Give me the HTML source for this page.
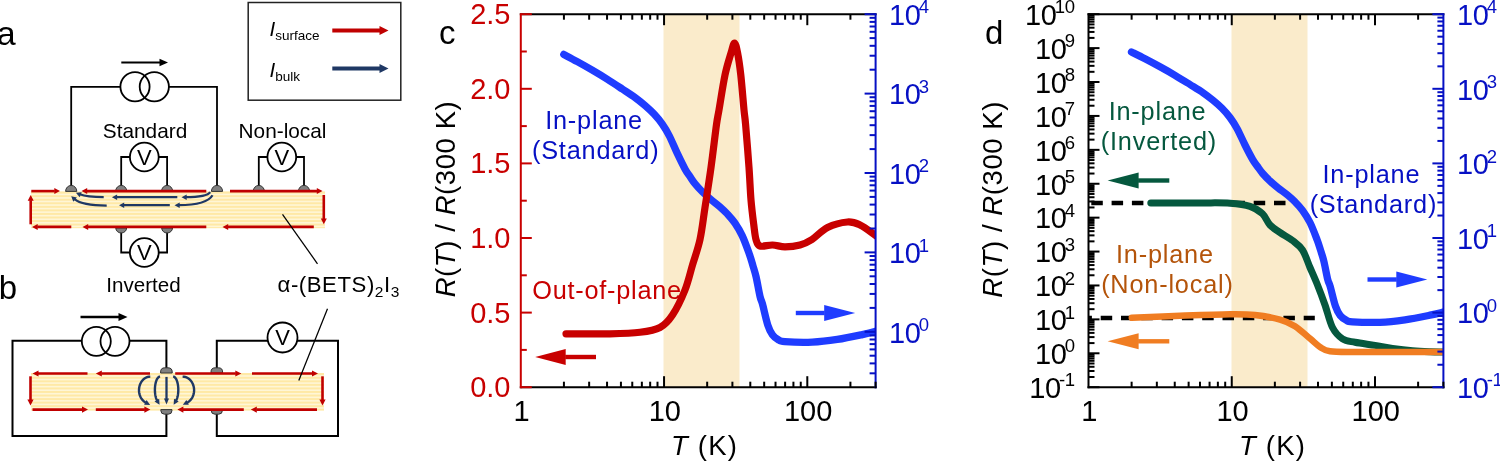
<!DOCTYPE html>
<html lang="en">
<head>
<meta charset="utf-8">
<title>Figure: surface and bulk transport in alpha-(BETS)2I3</title>
<style>
html,body{margin:0;padding:0;background:#fff;}
body{width:1500px;height:461px;overflow:hidden;}
svg{display:block;will-change:transform;font-family:"Liberation Sans", Arial, Helvetica, sans-serif;}
svg text{font-family:"Liberation Sans", Arial, Helvetica, sans-serif;}
</style>
</head>
<body>
<svg width="1500" height="461" viewBox="0 0 1500 461">
<rect x="0" y="0" width="1500" height="461" fill="#fff"/>
<defs><clipPath id="clipc"><rect x="521" y="14" width="354" height="373"/></clipPath><clipPath id="clipd"><rect x="1089" y="14" width="354" height="373"/></clipPath></defs>
<g id="panel-c">
<rect x="663.5" y="14.2" width="76" height="373" fill="#FAEBCB"/>
<path clip-path="url(#clipc)" d="M563.8 54.43C566.05 55.64 572.55 59.04 577.3 61.67C582.05 64.3 587.3 67.26 592.3 70.18C597.3 73.11 602.3 76.09 607.3 79.23C612.3 82.37 617.63 85.94 622.3 89.02C626.97 92.11 631.47 94.95 635.3 97.75C639.13 100.55 642.13 103.07 645.3 105.84C648.47 108.61 651.47 111.3 654.3 114.35C657.13 117.41 659.8 120.56 662.3 124.15C664.8 127.73 666.8 130.98 669.3 135.85C671.8 140.73 674.68 147.9 677.3 153.42C679.92 158.93 682.92 165.14 685 168.96C687.08 172.77 688.13 173.83 689.8 176.3C691.47 178.77 692.92 181.18 695 183.75C697.08 186.32 699.75 189.2 702.3 191.73C704.85 194.27 707.38 196.49 710.3 198.97C713.22 201.45 716.97 204.15 719.8 206.63C722.63 209.12 724.8 211.16 727.3 213.87C729.8 216.58 732.3 219.25 734.8 222.92C737.3 226.59 739.88 230.72 742.3 235.9C744.72 241.08 747.55 249.12 749.3 254C751.05 258.87 751.67 261.36 752.8 265.17C753.93 268.99 754.9 271.68 756.1 276.88C757.3 282.08 758.93 291.83 760 296.36C761.07 300.88 761.2 299.23 762.5 304.02C763.8 308.81 766.13 319.95 767.8 325.09C769.47 330.24 770.75 332.46 772.5 334.89C774.25 337.32 776.25 338.56 778.3 339.68C780.35 340.79 779.13 341.18 784.8 341.59C790.47 342 803.55 342.48 812.3 342.12C821.05 341.77 828.97 340.72 837.3 339.46C845.63 338.2 855.88 335.95 862.3 334.57C868.72 333.18 872.02 332.26 875.8 331.16C879.58 330.07 883.47 328.53 885 328" fill="none" stroke="#1F3CFF" stroke-width="7.3" stroke-linecap="round" stroke-linejoin="round"/>
<path clip-path="url(#clipc)" d="M566 333.8C573.33 333.8 597.67 334.05 610 333.8C622.33 333.55 631.67 333.35 640 332.3C648.33 331.25 654.58 330.38 660 327.5C665.42 324.62 668.33 321.25 672.5 315C676.67 308.75 681.67 298.33 685 290C688.33 281.67 690 273.42 692.5 265C695 256.58 697.92 249.08 700 239.5C702.08 229.92 703.17 219.5 705 207.5C706.83 195.5 709.08 181.33 711 167.5C712.92 153.67 715.17 134.08 716.5 124.5C717.83 114.92 717.58 118.25 719 110C720.42 101.75 723 84.5 725 75C727 65.5 729.42 58.33 731 53C732.58 47.67 733.4 43 734.5 43C735.6 43 736.55 47.67 737.6 53C738.65 58.33 739.73 65.5 740.8 75C741.87 84.5 743.2 101.75 744 110C744.8 118.25 744.77 114.92 745.6 124.5C746.43 134.08 748.1 154.92 749 167.5C749.9 180.08 750.2 190.42 751 200C751.8 209.58 752.97 218.42 753.8 225C754.63 231.58 754.97 236 756 239.5C757.03 243 757.25 245.08 760 246C762.75 246.92 768.33 244.87 772.5 245C776.67 245.13 780.42 246.8 785 246.8C789.58 246.8 795.5 246.22 800 245C804.5 243.78 807.42 242.42 812 239.5C816.58 236.58 821.58 230.42 827.5 227.5C833.42 224.58 842.08 222.42 847.5 222C852.92 221.58 855.42 222.83 860 225C864.58 227.17 870.83 232 875 235C879.17 238 883.33 241.67 885 243" fill="none" stroke="#C80000" stroke-width="7.2" stroke-linecap="round" stroke-linejoin="round"/>
<line x1="519.8" y1="14.2" x2="876.6" y2="14.2" stroke="#000" stroke-width="2"/>
<line x1="519.8" y1="387.2" x2="876.6" y2="387.2" stroke="#000" stroke-width="2"/>
<line x1="520.8" y1="13.2" x2="520.8" y2="388.2" stroke="#C80000" stroke-width="2"/>
<line x1="875.6" y1="13.2" x2="875.6" y2="388.2" stroke="#0610C4" stroke-width="2"/>
<line x1="563.92" y1="387.2" x2="563.92" y2="381.7" stroke="#000" stroke-width="2"/>
<line x1="563.92" y1="14.2" x2="563.92" y2="19.7" stroke="#000" stroke-width="2"/>
<line x1="589.15" y1="387.2" x2="589.15" y2="381.7" stroke="#000" stroke-width="2"/>
<line x1="589.15" y1="14.2" x2="589.15" y2="19.7" stroke="#000" stroke-width="2"/>
<line x1="607.05" y1="387.2" x2="607.05" y2="381.7" stroke="#000" stroke-width="2"/>
<line x1="607.05" y1="14.2" x2="607.05" y2="19.7" stroke="#000" stroke-width="2"/>
<line x1="620.93" y1="387.2" x2="620.93" y2="381.7" stroke="#000" stroke-width="2"/>
<line x1="620.93" y1="14.2" x2="620.93" y2="19.7" stroke="#000" stroke-width="2"/>
<line x1="632.27" y1="387.2" x2="632.27" y2="381.7" stroke="#000" stroke-width="2"/>
<line x1="632.27" y1="14.2" x2="632.27" y2="19.7" stroke="#000" stroke-width="2"/>
<line x1="641.86" y1="387.2" x2="641.86" y2="381.7" stroke="#000" stroke-width="2"/>
<line x1="641.86" y1="14.2" x2="641.86" y2="19.7" stroke="#000" stroke-width="2"/>
<line x1="650.17" y1="387.2" x2="650.17" y2="381.7" stroke="#000" stroke-width="2"/>
<line x1="650.17" y1="14.2" x2="650.17" y2="19.7" stroke="#000" stroke-width="2"/>
<line x1="657.5" y1="387.2" x2="657.5" y2="381.7" stroke="#000" stroke-width="2"/>
<line x1="657.5" y1="14.2" x2="657.5" y2="19.7" stroke="#000" stroke-width="2"/>
<line x1="664.05" y1="387.2" x2="664.05" y2="376.2" stroke="#000" stroke-width="2"/>
<line x1="664.05" y1="14.2" x2="664.05" y2="25.2" stroke="#000" stroke-width="2"/>
<line x1="707.17" y1="387.2" x2="707.17" y2="381.7" stroke="#000" stroke-width="2"/>
<line x1="707.17" y1="14.2" x2="707.17" y2="19.7" stroke="#000" stroke-width="2"/>
<line x1="732.4" y1="387.2" x2="732.4" y2="381.7" stroke="#000" stroke-width="2"/>
<line x1="732.4" y1="14.2" x2="732.4" y2="19.7" stroke="#000" stroke-width="2"/>
<line x1="750.3" y1="387.2" x2="750.3" y2="381.7" stroke="#000" stroke-width="2"/>
<line x1="750.3" y1="14.2" x2="750.3" y2="19.7" stroke="#000" stroke-width="2"/>
<line x1="764.18" y1="387.2" x2="764.18" y2="381.7" stroke="#000" stroke-width="2"/>
<line x1="764.18" y1="14.2" x2="764.18" y2="19.7" stroke="#000" stroke-width="2"/>
<line x1="775.52" y1="387.2" x2="775.52" y2="381.7" stroke="#000" stroke-width="2"/>
<line x1="775.52" y1="14.2" x2="775.52" y2="19.7" stroke="#000" stroke-width="2"/>
<line x1="785.11" y1="387.2" x2="785.11" y2="381.7" stroke="#000" stroke-width="2"/>
<line x1="785.11" y1="14.2" x2="785.11" y2="19.7" stroke="#000" stroke-width="2"/>
<line x1="793.42" y1="387.2" x2="793.42" y2="381.7" stroke="#000" stroke-width="2"/>
<line x1="793.42" y1="14.2" x2="793.42" y2="19.7" stroke="#000" stroke-width="2"/>
<line x1="800.75" y1="387.2" x2="800.75" y2="381.7" stroke="#000" stroke-width="2"/>
<line x1="800.75" y1="14.2" x2="800.75" y2="19.7" stroke="#000" stroke-width="2"/>
<line x1="807.3" y1="387.2" x2="807.3" y2="376.2" stroke="#000" stroke-width="2"/>
<line x1="807.3" y1="14.2" x2="807.3" y2="25.2" stroke="#000" stroke-width="2"/>
<line x1="850.42" y1="387.2" x2="850.42" y2="381.7" stroke="#000" stroke-width="2"/>
<line x1="850.42" y1="14.2" x2="850.42" y2="19.7" stroke="#000" stroke-width="2"/>
<line x1="875.6" y1="388.2" x2="875.6" y2="381.7" stroke="#000" stroke-width="2"/>
<line x1="520.8" y1="387.2" x2="531.8" y2="387.2" stroke="#C80000" stroke-width="2"/>
<text x="510.5" y="397.2" font-size="29" fill="#C80000" text-anchor="end" letter-spacing="0">0.0</text>
<line x1="520.8" y1="349.9" x2="526.8" y2="349.9" stroke="#C80000" stroke-width="2"/>
<line x1="520.8" y1="312.6" x2="531.8" y2="312.6" stroke="#C80000" stroke-width="2"/>
<text x="510.5" y="322.6" font-size="29" fill="#C80000" text-anchor="end" letter-spacing="0">0.5</text>
<line x1="520.8" y1="275.3" x2="526.8" y2="275.3" stroke="#C80000" stroke-width="2"/>
<line x1="520.8" y1="238" x2="531.8" y2="238" stroke="#C80000" stroke-width="2"/>
<text x="510.5" y="248" font-size="29" fill="#C80000" text-anchor="end" letter-spacing="0">1.0</text>
<line x1="520.8" y1="200.7" x2="526.8" y2="200.7" stroke="#C80000" stroke-width="2"/>
<line x1="520.8" y1="163.4" x2="531.8" y2="163.4" stroke="#C80000" stroke-width="2"/>
<text x="510.5" y="173.4" font-size="29" fill="#C80000" text-anchor="end" letter-spacing="0">1.5</text>
<line x1="520.8" y1="126.1" x2="526.8" y2="126.1" stroke="#C80000" stroke-width="2"/>
<line x1="520.8" y1="88.8" x2="531.8" y2="88.8" stroke="#C80000" stroke-width="2"/>
<text x="510.5" y="98.8" font-size="29" fill="#C80000" text-anchor="end" letter-spacing="0">2.0</text>
<line x1="520.8" y1="51.5" x2="526.8" y2="51.5" stroke="#C80000" stroke-width="2"/>
<line x1="520.8" y1="14.2" x2="531.8" y2="14.2" stroke="#C80000" stroke-width="2"/>
<text x="510.5" y="24.2" font-size="29" fill="#C80000" text-anchor="end" letter-spacing="0">2.5</text>
<line x1="875.6" y1="373.32" x2="869.6" y2="373.32" stroke="#0610C4" stroke-width="2"/>
<line x1="875.6" y1="363.4" x2="869.6" y2="363.4" stroke="#0610C4" stroke-width="2"/>
<line x1="875.6" y1="355.7" x2="869.6" y2="355.7" stroke="#0610C4" stroke-width="2"/>
<line x1="875.6" y1="349.41" x2="869.6" y2="349.41" stroke="#0610C4" stroke-width="2"/>
<line x1="875.6" y1="344.1" x2="869.6" y2="344.1" stroke="#0610C4" stroke-width="2"/>
<line x1="875.6" y1="339.49" x2="869.6" y2="339.49" stroke="#0610C4" stroke-width="2"/>
<line x1="875.6" y1="335.43" x2="869.6" y2="335.43" stroke="#0610C4" stroke-width="2"/>
<line x1="875.6" y1="331.8" x2="864.6" y2="331.8" stroke="#0610C4" stroke-width="2"/>
<line x1="875.6" y1="307.9" x2="869.6" y2="307.9" stroke="#0610C4" stroke-width="2"/>
<line x1="875.6" y1="293.92" x2="869.6" y2="293.92" stroke="#0610C4" stroke-width="2"/>
<line x1="875.6" y1="284" x2="869.6" y2="284" stroke="#0610C4" stroke-width="2"/>
<line x1="875.6" y1="276.3" x2="869.6" y2="276.3" stroke="#0610C4" stroke-width="2"/>
<line x1="875.6" y1="270.01" x2="869.6" y2="270.01" stroke="#0610C4" stroke-width="2"/>
<line x1="875.6" y1="264.7" x2="869.6" y2="264.7" stroke="#0610C4" stroke-width="2"/>
<line x1="875.6" y1="260.09" x2="869.6" y2="260.09" stroke="#0610C4" stroke-width="2"/>
<line x1="875.6" y1="256.03" x2="869.6" y2="256.03" stroke="#0610C4" stroke-width="2"/>
<line x1="875.6" y1="252.4" x2="864.6" y2="252.4" stroke="#0610C4" stroke-width="2"/>
<line x1="875.6" y1="228.5" x2="869.6" y2="228.5" stroke="#0610C4" stroke-width="2"/>
<line x1="875.6" y1="214.52" x2="869.6" y2="214.52" stroke="#0610C4" stroke-width="2"/>
<line x1="875.6" y1="204.6" x2="869.6" y2="204.6" stroke="#0610C4" stroke-width="2"/>
<line x1="875.6" y1="196.9" x2="869.6" y2="196.9" stroke="#0610C4" stroke-width="2"/>
<line x1="875.6" y1="190.61" x2="869.6" y2="190.61" stroke="#0610C4" stroke-width="2"/>
<line x1="875.6" y1="185.3" x2="869.6" y2="185.3" stroke="#0610C4" stroke-width="2"/>
<line x1="875.6" y1="180.69" x2="869.6" y2="180.69" stroke="#0610C4" stroke-width="2"/>
<line x1="875.6" y1="176.63" x2="869.6" y2="176.63" stroke="#0610C4" stroke-width="2"/>
<line x1="875.6" y1="173" x2="864.6" y2="173" stroke="#0610C4" stroke-width="2"/>
<line x1="875.6" y1="149.1" x2="869.6" y2="149.1" stroke="#0610C4" stroke-width="2"/>
<line x1="875.6" y1="135.12" x2="869.6" y2="135.12" stroke="#0610C4" stroke-width="2"/>
<line x1="875.6" y1="125.2" x2="869.6" y2="125.2" stroke="#0610C4" stroke-width="2"/>
<line x1="875.6" y1="117.5" x2="869.6" y2="117.5" stroke="#0610C4" stroke-width="2"/>
<line x1="875.6" y1="111.21" x2="869.6" y2="111.21" stroke="#0610C4" stroke-width="2"/>
<line x1="875.6" y1="105.9" x2="869.6" y2="105.9" stroke="#0610C4" stroke-width="2"/>
<line x1="875.6" y1="101.29" x2="869.6" y2="101.29" stroke="#0610C4" stroke-width="2"/>
<line x1="875.6" y1="97.23" x2="869.6" y2="97.23" stroke="#0610C4" stroke-width="2"/>
<line x1="875.6" y1="93.6" x2="864.6" y2="93.6" stroke="#0610C4" stroke-width="2"/>
<line x1="875.6" y1="69.7" x2="869.6" y2="69.7" stroke="#0610C4" stroke-width="2"/>
<line x1="875.6" y1="55.72" x2="869.6" y2="55.72" stroke="#0610C4" stroke-width="2"/>
<line x1="875.6" y1="45.8" x2="869.6" y2="45.8" stroke="#0610C4" stroke-width="2"/>
<line x1="875.6" y1="38.1" x2="869.6" y2="38.1" stroke="#0610C4" stroke-width="2"/>
<line x1="875.6" y1="31.81" x2="869.6" y2="31.81" stroke="#0610C4" stroke-width="2"/>
<line x1="875.6" y1="26.5" x2="869.6" y2="26.5" stroke="#0610C4" stroke-width="2"/>
<line x1="875.6" y1="21.89" x2="869.6" y2="21.89" stroke="#0610C4" stroke-width="2"/>
<line x1="875.6" y1="17.83" x2="869.6" y2="17.83" stroke="#0610C4" stroke-width="2"/>
<line x1="875.6" y1="14.2" x2="864.6" y2="14.2" stroke="#0610C4" stroke-width="2"/>
<text x="889" y="342.6" font-size="29" fill="#0610C4" text-anchor="start" letter-spacing="-0.4">10<tspan font-size="18.56" dx="-1.8" dy="-11.6">0</tspan></text>
<text x="889" y="263.2" font-size="29" fill="#0610C4" text-anchor="start" letter-spacing="-0.4">10<tspan font-size="18.56" dx="-1.8" dy="-11.6">1</tspan></text>
<text x="889" y="183.8" font-size="29" fill="#0610C4" text-anchor="start" letter-spacing="-0.4">10<tspan font-size="18.56" dx="-1.8" dy="-11.6">2</tspan></text>
<text x="889" y="104.4" font-size="29" fill="#0610C4" text-anchor="start" letter-spacing="-0.4">10<tspan font-size="18.56" dx="-1.8" dy="-11.6">3</tspan></text>
<text x="889" y="25" font-size="29" fill="#0610C4" text-anchor="start" letter-spacing="-0.4">10<tspan font-size="18.56" dx="-1.8" dy="-11.6">4</tspan></text>
<text x="521.6" y="421" font-size="29" fill="#000" text-anchor="middle" letter-spacing="0">1</text>
<text x="664.85" y="421" font-size="29" fill="#000" text-anchor="middle" letter-spacing="0">10</text>
<text x="808.1" y="421" font-size="29" fill="#000" text-anchor="middle" letter-spacing="0">100</text>
<text x="704.5" y="455.3" font-size="27.5" text-anchor="middle" letter-spacing="1.2"><tspan font-style="italic">T</tspan> (K)</text>
<text transform="translate(454.5 199) rotate(-90)" font-size="27.5" text-anchor="middle" letter-spacing="0.58"><tspan font-style="italic">R</tspan>(<tspan font-style="italic">T</tspan>) / <tspan font-style="italic">R</tspan>(300 K)</text>
<text x="439" y="44.3" font-size="33" fill="#000" text-anchor="start">c</text>
<text x="594.1" y="128.8" font-size="25.3" fill="#0610C4" text-anchor="middle" letter-spacing="0.8">In-plane</text>
<text x="595.7" y="159" font-size="25.3" fill="#0610C4" text-anchor="middle" letter-spacing="0.8">(Standard)</text>
<text x="532.3" y="299.3" font-size="25.3" fill="#C80000" text-anchor="start" letter-spacing="0.75">Out-of-plane</text>
<line x1="596" y1="357" x2="565.2" y2="357" stroke="#C80000" stroke-width="4.4"/>
<polygon points="535.2,357 565.7,349 565.7,365" fill="#C80000"/>
<line x1="795.8" y1="313" x2="824.7" y2="313" stroke="#1F3CFF" stroke-width="4.4"/>
<polygon points="855.2,313 824.2,321 824.2,305" fill="#1F3CFF"/>
</g>
<g id="panel-d">
<rect x="1231.5" y="14.2" width="76" height="373" fill="#FAEBCB"/>
<line x1="1091.3" y1="202.9" x2="1285.5" y2="202.9" stroke="#000" stroke-width="4.5" stroke-dasharray="11.5 8.8"/>
<line x1="1080.4" y1="318.1" x2="1314.8" y2="318.1" stroke="#000" stroke-width="4.5" stroke-dasharray="11.5 8.8" clip-path="url(#clipd)"/>
<path clip-path="url(#clipd)" d="M1150.8 202.9C1159 202.9 1186.8 202.85 1200 202.9C1213.2 202.95 1221.67 202.63 1230 203.2C1238.33 203.77 1244.58 204.53 1250 206.3C1255.42 208.07 1259.17 210.68 1262.5 213.8C1265.83 216.92 1267.08 221.88 1270 225C1272.92 228.12 1276.25 229.92 1280 232.5C1283.75 235.08 1288.75 237.58 1292.5 240.5C1296.25 243.42 1299.58 245.5 1302.5 250C1305.42 254.5 1307.5 261.67 1310 267.5C1312.5 273.33 1315 278.75 1317.5 285C1320 291.25 1322.5 297.92 1325 305C1327.5 312.08 1329.58 321.87 1332.5 327.5C1335.42 333.13 1338.75 336.33 1342.5 338.8C1346.25 341.27 1349.58 341.2 1355 342.3C1360.42 343.4 1368.75 344.38 1375 345.4C1381.25 346.42 1386.25 347.5 1392.5 348.4C1398.75 349.3 1406.25 350.23 1412.5 350.8C1418.75 351.37 1424.92 351.6 1430 351.8C1435.08 352 1439.17 351.97 1443 352C1446.83 352.03 1451.33 352 1453 352" fill="none" stroke="#05583E" stroke-width="7" stroke-linecap="round" stroke-linejoin="round"/>
<path clip-path="url(#clipd)" d="M1131.8 317.8C1139.83 317.47 1163.63 316.38 1180 315.8C1196.37 315.22 1217.5 314.43 1230 314.3C1242.5 314.17 1246.67 314.12 1255 315C1263.33 315.88 1273.33 317.73 1280 319.6C1286.67 321.47 1290 323.03 1295 326.2C1300 329.37 1305.83 335.13 1310 338.6C1314.17 342.07 1316.67 344.88 1320 347C1323.33 349.12 1324.17 350.47 1330 351.3C1335.83 352.13 1343.33 351.88 1355 352C1366.67 352.12 1385.33 352 1400 352C1414.67 352 1434.17 352 1443 352C1451.83 352 1451.33 352 1453 352" fill="none" stroke="#F07D22" stroke-width="6.5" stroke-linecap="round" stroke-linejoin="round"/>
<path clip-path="url(#clipd)" d="M1131.5 52C1133.75 53.13 1140.25 56.33 1145 58.8C1149.75 61.27 1155 64.05 1160 66.8C1165 69.55 1170 72.35 1175 75.3C1180 78.25 1185.33 81.6 1190 84.5C1194.67 87.4 1199.17 90.07 1203 92.7C1206.83 95.33 1209.83 97.7 1213 100.3C1216.17 102.9 1219.17 105.43 1222 108.3C1224.83 111.17 1227.5 114.13 1230 117.5C1232.5 120.87 1234.5 123.92 1237 128.5C1239.5 133.08 1242.38 139.82 1245 145C1247.62 150.18 1250.62 156.02 1252.7 159.6C1254.78 163.18 1255.83 164.18 1257.5 166.5C1259.17 168.82 1260.62 171.08 1262.7 173.5C1264.78 175.92 1267.45 178.62 1270 181C1272.55 183.38 1275.08 185.47 1278 187.8C1280.92 190.13 1284.67 192.67 1287.5 195C1290.33 197.33 1292.5 199.25 1295 201.8C1297.5 204.35 1300 206.85 1302.5 210.3C1305 213.75 1307.58 217.63 1310 222.5C1312.42 227.37 1315.25 234.92 1317 239.5C1318.75 244.08 1319.37 246.42 1320.5 250C1321.63 253.58 1322.6 256.12 1323.8 261C1325 265.88 1326.63 275.05 1327.7 279.3C1328.77 283.55 1328.9 282 1330.2 286.5C1331.5 291 1333.83 301.47 1335.5 306.3C1337.17 311.13 1338.45 313.22 1340.2 315.5C1341.95 317.78 1343.95 318.95 1346 320C1348.05 321.05 1346.83 321.42 1352.5 321.8C1358.17 322.18 1371.25 322.63 1380 322.3C1388.75 321.97 1396.67 320.98 1405 319.8C1413.33 318.62 1423.58 316.5 1430 315.2C1436.42 313.9 1439.67 312.95 1443.5 312C1447.33 311.05 1451.42 309.92 1453 309.5" fill="none" stroke="#1F3CFF" stroke-width="7.3" stroke-linecap="round" stroke-linejoin="round"/>
<line x1="1087.5" y1="14.2" x2="1444.4" y2="14.2" stroke="#000" stroke-width="2"/>
<line x1="1087.5" y1="387.2" x2="1444.4" y2="387.2" stroke="#000" stroke-width="2"/>
<line x1="1088.5" y1="13.2" x2="1088.5" y2="388.2" stroke="#000" stroke-width="2"/>
<line x1="1443.4" y1="13.2" x2="1443.4" y2="388.2" stroke="#0610C4" stroke-width="2"/>
<line x1="1131.62" y1="387.2" x2="1131.62" y2="381.7" stroke="#000" stroke-width="2"/>
<line x1="1131.62" y1="14.2" x2="1131.62" y2="19.7" stroke="#000" stroke-width="2"/>
<line x1="1156.85" y1="387.2" x2="1156.85" y2="381.7" stroke="#000" stroke-width="2"/>
<line x1="1156.85" y1="14.2" x2="1156.85" y2="19.7" stroke="#000" stroke-width="2"/>
<line x1="1174.75" y1="387.2" x2="1174.75" y2="381.7" stroke="#000" stroke-width="2"/>
<line x1="1174.75" y1="14.2" x2="1174.75" y2="19.7" stroke="#000" stroke-width="2"/>
<line x1="1188.63" y1="387.2" x2="1188.63" y2="381.7" stroke="#000" stroke-width="2"/>
<line x1="1188.63" y1="14.2" x2="1188.63" y2="19.7" stroke="#000" stroke-width="2"/>
<line x1="1199.97" y1="387.2" x2="1199.97" y2="381.7" stroke="#000" stroke-width="2"/>
<line x1="1199.97" y1="14.2" x2="1199.97" y2="19.7" stroke="#000" stroke-width="2"/>
<line x1="1209.56" y1="387.2" x2="1209.56" y2="381.7" stroke="#000" stroke-width="2"/>
<line x1="1209.56" y1="14.2" x2="1209.56" y2="19.7" stroke="#000" stroke-width="2"/>
<line x1="1217.87" y1="387.2" x2="1217.87" y2="381.7" stroke="#000" stroke-width="2"/>
<line x1="1217.87" y1="14.2" x2="1217.87" y2="19.7" stroke="#000" stroke-width="2"/>
<line x1="1225.2" y1="387.2" x2="1225.2" y2="381.7" stroke="#000" stroke-width="2"/>
<line x1="1225.2" y1="14.2" x2="1225.2" y2="19.7" stroke="#000" stroke-width="2"/>
<line x1="1231.75" y1="387.2" x2="1231.75" y2="376.2" stroke="#000" stroke-width="2"/>
<line x1="1231.75" y1="14.2" x2="1231.75" y2="25.2" stroke="#000" stroke-width="2"/>
<line x1="1274.87" y1="387.2" x2="1274.87" y2="381.7" stroke="#000" stroke-width="2"/>
<line x1="1274.87" y1="14.2" x2="1274.87" y2="19.7" stroke="#000" stroke-width="2"/>
<line x1="1300.1" y1="387.2" x2="1300.1" y2="381.7" stroke="#000" stroke-width="2"/>
<line x1="1300.1" y1="14.2" x2="1300.1" y2="19.7" stroke="#000" stroke-width="2"/>
<line x1="1318" y1="387.2" x2="1318" y2="381.7" stroke="#000" stroke-width="2"/>
<line x1="1318" y1="14.2" x2="1318" y2="19.7" stroke="#000" stroke-width="2"/>
<line x1="1331.88" y1="387.2" x2="1331.88" y2="381.7" stroke="#000" stroke-width="2"/>
<line x1="1331.88" y1="14.2" x2="1331.88" y2="19.7" stroke="#000" stroke-width="2"/>
<line x1="1343.22" y1="387.2" x2="1343.22" y2="381.7" stroke="#000" stroke-width="2"/>
<line x1="1343.22" y1="14.2" x2="1343.22" y2="19.7" stroke="#000" stroke-width="2"/>
<line x1="1352.81" y1="387.2" x2="1352.81" y2="381.7" stroke="#000" stroke-width="2"/>
<line x1="1352.81" y1="14.2" x2="1352.81" y2="19.7" stroke="#000" stroke-width="2"/>
<line x1="1361.12" y1="387.2" x2="1361.12" y2="381.7" stroke="#000" stroke-width="2"/>
<line x1="1361.12" y1="14.2" x2="1361.12" y2="19.7" stroke="#000" stroke-width="2"/>
<line x1="1368.45" y1="387.2" x2="1368.45" y2="381.7" stroke="#000" stroke-width="2"/>
<line x1="1368.45" y1="14.2" x2="1368.45" y2="19.7" stroke="#000" stroke-width="2"/>
<line x1="1375" y1="387.2" x2="1375" y2="376.2" stroke="#000" stroke-width="2"/>
<line x1="1375" y1="14.2" x2="1375" y2="25.2" stroke="#000" stroke-width="2"/>
<line x1="1418.12" y1="387.2" x2="1418.12" y2="381.7" stroke="#000" stroke-width="2"/>
<line x1="1418.12" y1="14.2" x2="1418.12" y2="19.7" stroke="#000" stroke-width="2"/>
<line x1="1443.4" y1="388.2" x2="1443.4" y2="381.7" stroke="#000" stroke-width="2"/>
<line x1="1088.5" y1="387.2" x2="1099.5" y2="387.2" stroke="#000" stroke-width="2"/>
<line x1="1088.5" y1="376.99" x2="1094.5" y2="376.99" stroke="#000" stroke-width="2"/>
<line x1="1088.5" y1="371.02" x2="1094.5" y2="371.02" stroke="#000" stroke-width="2"/>
<line x1="1088.5" y1="366.78" x2="1094.5" y2="366.78" stroke="#000" stroke-width="2"/>
<line x1="1088.5" y1="363.5" x2="1094.5" y2="363.5" stroke="#000" stroke-width="2"/>
<line x1="1088.5" y1="360.81" x2="1094.5" y2="360.81" stroke="#000" stroke-width="2"/>
<line x1="1088.5" y1="358.54" x2="1094.5" y2="358.54" stroke="#000" stroke-width="2"/>
<line x1="1088.5" y1="356.58" x2="1094.5" y2="356.58" stroke="#000" stroke-width="2"/>
<line x1="1088.5" y1="354.84" x2="1094.5" y2="354.84" stroke="#000" stroke-width="2"/>
<line x1="1088.5" y1="353.29" x2="1099.5" y2="353.29" stroke="#000" stroke-width="2"/>
<line x1="1088.5" y1="343.08" x2="1094.5" y2="343.08" stroke="#000" stroke-width="2"/>
<line x1="1088.5" y1="337.11" x2="1094.5" y2="337.11" stroke="#000" stroke-width="2"/>
<line x1="1088.5" y1="332.88" x2="1094.5" y2="332.88" stroke="#000" stroke-width="2"/>
<line x1="1088.5" y1="329.59" x2="1094.5" y2="329.59" stroke="#000" stroke-width="2"/>
<line x1="1088.5" y1="326.9" x2="1094.5" y2="326.9" stroke="#000" stroke-width="2"/>
<line x1="1088.5" y1="324.63" x2="1094.5" y2="324.63" stroke="#000" stroke-width="2"/>
<line x1="1088.5" y1="322.67" x2="1094.5" y2="322.67" stroke="#000" stroke-width="2"/>
<line x1="1088.5" y1="320.93" x2="1094.5" y2="320.93" stroke="#000" stroke-width="2"/>
<line x1="1088.5" y1="319.38" x2="1099.5" y2="319.38" stroke="#000" stroke-width="2"/>
<line x1="1088.5" y1="309.17" x2="1094.5" y2="309.17" stroke="#000" stroke-width="2"/>
<line x1="1088.5" y1="303.2" x2="1094.5" y2="303.2" stroke="#000" stroke-width="2"/>
<line x1="1088.5" y1="298.97" x2="1094.5" y2="298.97" stroke="#000" stroke-width="2"/>
<line x1="1088.5" y1="295.68" x2="1094.5" y2="295.68" stroke="#000" stroke-width="2"/>
<line x1="1088.5" y1="293" x2="1094.5" y2="293" stroke="#000" stroke-width="2"/>
<line x1="1088.5" y1="290.73" x2="1094.5" y2="290.73" stroke="#000" stroke-width="2"/>
<line x1="1088.5" y1="288.76" x2="1094.5" y2="288.76" stroke="#000" stroke-width="2"/>
<line x1="1088.5" y1="287.02" x2="1094.5" y2="287.02" stroke="#000" stroke-width="2"/>
<line x1="1088.5" y1="285.47" x2="1099.5" y2="285.47" stroke="#000" stroke-width="2"/>
<line x1="1088.5" y1="275.27" x2="1094.5" y2="275.27" stroke="#000" stroke-width="2"/>
<line x1="1088.5" y1="269.29" x2="1094.5" y2="269.29" stroke="#000" stroke-width="2"/>
<line x1="1088.5" y1="265.06" x2="1094.5" y2="265.06" stroke="#000" stroke-width="2"/>
<line x1="1088.5" y1="261.77" x2="1094.5" y2="261.77" stroke="#000" stroke-width="2"/>
<line x1="1088.5" y1="259.09" x2="1094.5" y2="259.09" stroke="#000" stroke-width="2"/>
<line x1="1088.5" y1="256.82" x2="1094.5" y2="256.82" stroke="#000" stroke-width="2"/>
<line x1="1088.5" y1="254.85" x2="1094.5" y2="254.85" stroke="#000" stroke-width="2"/>
<line x1="1088.5" y1="253.12" x2="1094.5" y2="253.12" stroke="#000" stroke-width="2"/>
<line x1="1088.5" y1="251.56" x2="1099.5" y2="251.56" stroke="#000" stroke-width="2"/>
<line x1="1088.5" y1="241.36" x2="1094.5" y2="241.36" stroke="#000" stroke-width="2"/>
<line x1="1088.5" y1="235.38" x2="1094.5" y2="235.38" stroke="#000" stroke-width="2"/>
<line x1="1088.5" y1="231.15" x2="1094.5" y2="231.15" stroke="#000" stroke-width="2"/>
<line x1="1088.5" y1="227.86" x2="1094.5" y2="227.86" stroke="#000" stroke-width="2"/>
<line x1="1088.5" y1="225.18" x2="1094.5" y2="225.18" stroke="#000" stroke-width="2"/>
<line x1="1088.5" y1="222.91" x2="1094.5" y2="222.91" stroke="#000" stroke-width="2"/>
<line x1="1088.5" y1="220.94" x2="1094.5" y2="220.94" stroke="#000" stroke-width="2"/>
<line x1="1088.5" y1="219.21" x2="1094.5" y2="219.21" stroke="#000" stroke-width="2"/>
<line x1="1088.5" y1="217.65" x2="1099.5" y2="217.65" stroke="#000" stroke-width="2"/>
<line x1="1088.5" y1="207.45" x2="1094.5" y2="207.45" stroke="#000" stroke-width="2"/>
<line x1="1088.5" y1="201.48" x2="1094.5" y2="201.48" stroke="#000" stroke-width="2"/>
<line x1="1088.5" y1="197.24" x2="1094.5" y2="197.24" stroke="#000" stroke-width="2"/>
<line x1="1088.5" y1="193.95" x2="1094.5" y2="193.95" stroke="#000" stroke-width="2"/>
<line x1="1088.5" y1="191.27" x2="1094.5" y2="191.27" stroke="#000" stroke-width="2"/>
<line x1="1088.5" y1="189" x2="1094.5" y2="189" stroke="#000" stroke-width="2"/>
<line x1="1088.5" y1="187.03" x2="1094.5" y2="187.03" stroke="#000" stroke-width="2"/>
<line x1="1088.5" y1="185.3" x2="1094.5" y2="185.3" stroke="#000" stroke-width="2"/>
<line x1="1088.5" y1="183.75" x2="1099.5" y2="183.75" stroke="#000" stroke-width="2"/>
<line x1="1088.5" y1="173.54" x2="1094.5" y2="173.54" stroke="#000" stroke-width="2"/>
<line x1="1088.5" y1="167.57" x2="1094.5" y2="167.57" stroke="#000" stroke-width="2"/>
<line x1="1088.5" y1="163.33" x2="1094.5" y2="163.33" stroke="#000" stroke-width="2"/>
<line x1="1088.5" y1="160.04" x2="1094.5" y2="160.04" stroke="#000" stroke-width="2"/>
<line x1="1088.5" y1="157.36" x2="1094.5" y2="157.36" stroke="#000" stroke-width="2"/>
<line x1="1088.5" y1="155.09" x2="1094.5" y2="155.09" stroke="#000" stroke-width="2"/>
<line x1="1088.5" y1="153.12" x2="1094.5" y2="153.12" stroke="#000" stroke-width="2"/>
<line x1="1088.5" y1="151.39" x2="1094.5" y2="151.39" stroke="#000" stroke-width="2"/>
<line x1="1088.5" y1="149.84" x2="1099.5" y2="149.84" stroke="#000" stroke-width="2"/>
<line x1="1088.5" y1="139.63" x2="1094.5" y2="139.63" stroke="#000" stroke-width="2"/>
<line x1="1088.5" y1="133.66" x2="1094.5" y2="133.66" stroke="#000" stroke-width="2"/>
<line x1="1088.5" y1="129.42" x2="1094.5" y2="129.42" stroke="#000" stroke-width="2"/>
<line x1="1088.5" y1="126.13" x2="1094.5" y2="126.13" stroke="#000" stroke-width="2"/>
<line x1="1088.5" y1="123.45" x2="1094.5" y2="123.45" stroke="#000" stroke-width="2"/>
<line x1="1088.5" y1="121.18" x2="1094.5" y2="121.18" stroke="#000" stroke-width="2"/>
<line x1="1088.5" y1="119.21" x2="1094.5" y2="119.21" stroke="#000" stroke-width="2"/>
<line x1="1088.5" y1="117.48" x2="1094.5" y2="117.48" stroke="#000" stroke-width="2"/>
<line x1="1088.5" y1="115.93" x2="1099.5" y2="115.93" stroke="#000" stroke-width="2"/>
<line x1="1088.5" y1="105.72" x2="1094.5" y2="105.72" stroke="#000" stroke-width="2"/>
<line x1="1088.5" y1="99.75" x2="1094.5" y2="99.75" stroke="#000" stroke-width="2"/>
<line x1="1088.5" y1="95.51" x2="1094.5" y2="95.51" stroke="#000" stroke-width="2"/>
<line x1="1088.5" y1="92.23" x2="1094.5" y2="92.23" stroke="#000" stroke-width="2"/>
<line x1="1088.5" y1="89.54" x2="1094.5" y2="89.54" stroke="#000" stroke-width="2"/>
<line x1="1088.5" y1="87.27" x2="1094.5" y2="87.27" stroke="#000" stroke-width="2"/>
<line x1="1088.5" y1="85.3" x2="1094.5" y2="85.3" stroke="#000" stroke-width="2"/>
<line x1="1088.5" y1="83.57" x2="1094.5" y2="83.57" stroke="#000" stroke-width="2"/>
<line x1="1088.5" y1="82.02" x2="1099.5" y2="82.02" stroke="#000" stroke-width="2"/>
<line x1="1088.5" y1="71.81" x2="1094.5" y2="71.81" stroke="#000" stroke-width="2"/>
<line x1="1088.5" y1="65.84" x2="1094.5" y2="65.84" stroke="#000" stroke-width="2"/>
<line x1="1088.5" y1="61.6" x2="1094.5" y2="61.6" stroke="#000" stroke-width="2"/>
<line x1="1088.5" y1="58.32" x2="1094.5" y2="58.32" stroke="#000" stroke-width="2"/>
<line x1="1088.5" y1="55.63" x2="1094.5" y2="55.63" stroke="#000" stroke-width="2"/>
<line x1="1088.5" y1="53.36" x2="1094.5" y2="53.36" stroke="#000" stroke-width="2"/>
<line x1="1088.5" y1="51.4" x2="1094.5" y2="51.4" stroke="#000" stroke-width="2"/>
<line x1="1088.5" y1="49.66" x2="1094.5" y2="49.66" stroke="#000" stroke-width="2"/>
<line x1="1088.5" y1="48.11" x2="1099.5" y2="48.11" stroke="#000" stroke-width="2"/>
<line x1="1088.5" y1="37.9" x2="1094.5" y2="37.9" stroke="#000" stroke-width="2"/>
<line x1="1088.5" y1="31.93" x2="1094.5" y2="31.93" stroke="#000" stroke-width="2"/>
<line x1="1088.5" y1="27.69" x2="1094.5" y2="27.69" stroke="#000" stroke-width="2"/>
<line x1="1088.5" y1="24.41" x2="1094.5" y2="24.41" stroke="#000" stroke-width="2"/>
<line x1="1088.5" y1="21.72" x2="1094.5" y2="21.72" stroke="#000" stroke-width="2"/>
<line x1="1088.5" y1="19.45" x2="1094.5" y2="19.45" stroke="#000" stroke-width="2"/>
<line x1="1088.5" y1="17.49" x2="1094.5" y2="17.49" stroke="#000" stroke-width="2"/>
<line x1="1088.5" y1="15.75" x2="1094.5" y2="15.75" stroke="#000" stroke-width="2"/>
<line x1="1088.5" y1="14.2" x2="1099.5" y2="14.2" stroke="#000" stroke-width="2"/>
<text x="1074.6" y="398" font-size="29" fill="#000" text-anchor="end" letter-spacing="-0.4">10<tspan font-size="18.56" dx="-1.8" dy="-11.6">-1</tspan></text>
<text x="1074.6" y="364.09" font-size="29" fill="#000" text-anchor="end" letter-spacing="-0.4">10<tspan font-size="18.56" dx="-1.8" dy="-11.6">0</tspan></text>
<text x="1074.6" y="330.18" font-size="29" fill="#000" text-anchor="end" letter-spacing="-0.4">10<tspan font-size="18.56" dx="-1.8" dy="-11.6">1</tspan></text>
<text x="1074.6" y="296.27" font-size="29" fill="#000" text-anchor="end" letter-spacing="-0.4">10<tspan font-size="18.56" dx="-1.8" dy="-11.6">2</tspan></text>
<text x="1074.6" y="262.36" font-size="29" fill="#000" text-anchor="end" letter-spacing="-0.4">10<tspan font-size="18.56" dx="-1.8" dy="-11.6">3</tspan></text>
<text x="1074.6" y="228.45" font-size="29" fill="#000" text-anchor="end" letter-spacing="-0.4">10<tspan font-size="18.56" dx="-1.8" dy="-11.6">4</tspan></text>
<text x="1074.6" y="194.55" font-size="29" fill="#000" text-anchor="end" letter-spacing="-0.4">10<tspan font-size="18.56" dx="-1.8" dy="-11.6">5</tspan></text>
<text x="1074.6" y="160.64" font-size="29" fill="#000" text-anchor="end" letter-spacing="-0.4">10<tspan font-size="18.56" dx="-1.8" dy="-11.6">6</tspan></text>
<text x="1074.6" y="126.73" font-size="29" fill="#000" text-anchor="end" letter-spacing="-0.4">10<tspan font-size="18.56" dx="-1.8" dy="-11.6">7</tspan></text>
<text x="1074.6" y="92.82" font-size="29" fill="#000" text-anchor="end" letter-spacing="-0.4">10<tspan font-size="18.56" dx="-1.8" dy="-11.6">8</tspan></text>
<text x="1074.6" y="58.91" font-size="29" fill="#000" text-anchor="end" letter-spacing="-0.4">10<tspan font-size="18.56" dx="-1.8" dy="-11.6">9</tspan></text>
<text x="1074.6" y="25" font-size="29" fill="#000" text-anchor="end" letter-spacing="-0.4">10<tspan font-size="18.56" dx="-1.8" dy="-11.6">10</tspan></text>
<line x1="1443.4" y1="387.2" x2="1432.4" y2="387.2" stroke="#0610C4" stroke-width="2"/>
<line x1="1443.4" y1="364.74" x2="1437.4" y2="364.74" stroke="#0610C4" stroke-width="2"/>
<line x1="1443.4" y1="351.61" x2="1437.4" y2="351.61" stroke="#0610C4" stroke-width="2"/>
<line x1="1443.4" y1="342.29" x2="1437.4" y2="342.29" stroke="#0610C4" stroke-width="2"/>
<line x1="1443.4" y1="335.06" x2="1437.4" y2="335.06" stroke="#0610C4" stroke-width="2"/>
<line x1="1443.4" y1="329.15" x2="1437.4" y2="329.15" stroke="#0610C4" stroke-width="2"/>
<line x1="1443.4" y1="324.16" x2="1437.4" y2="324.16" stroke="#0610C4" stroke-width="2"/>
<line x1="1443.4" y1="319.83" x2="1437.4" y2="319.83" stroke="#0610C4" stroke-width="2"/>
<line x1="1443.4" y1="316.01" x2="1437.4" y2="316.01" stroke="#0610C4" stroke-width="2"/>
<line x1="1443.4" y1="312.6" x2="1432.4" y2="312.6" stroke="#0610C4" stroke-width="2"/>
<line x1="1443.4" y1="290.14" x2="1437.4" y2="290.14" stroke="#0610C4" stroke-width="2"/>
<line x1="1443.4" y1="277.01" x2="1437.4" y2="277.01" stroke="#0610C4" stroke-width="2"/>
<line x1="1443.4" y1="267.69" x2="1437.4" y2="267.69" stroke="#0610C4" stroke-width="2"/>
<line x1="1443.4" y1="260.46" x2="1437.4" y2="260.46" stroke="#0610C4" stroke-width="2"/>
<line x1="1443.4" y1="254.55" x2="1437.4" y2="254.55" stroke="#0610C4" stroke-width="2"/>
<line x1="1443.4" y1="249.56" x2="1437.4" y2="249.56" stroke="#0610C4" stroke-width="2"/>
<line x1="1443.4" y1="245.23" x2="1437.4" y2="245.23" stroke="#0610C4" stroke-width="2"/>
<line x1="1443.4" y1="241.41" x2="1437.4" y2="241.41" stroke="#0610C4" stroke-width="2"/>
<line x1="1443.4" y1="238" x2="1432.4" y2="238" stroke="#0610C4" stroke-width="2"/>
<line x1="1443.4" y1="215.54" x2="1437.4" y2="215.54" stroke="#0610C4" stroke-width="2"/>
<line x1="1443.4" y1="202.41" x2="1437.4" y2="202.41" stroke="#0610C4" stroke-width="2"/>
<line x1="1443.4" y1="193.09" x2="1437.4" y2="193.09" stroke="#0610C4" stroke-width="2"/>
<line x1="1443.4" y1="185.86" x2="1437.4" y2="185.86" stroke="#0610C4" stroke-width="2"/>
<line x1="1443.4" y1="179.95" x2="1437.4" y2="179.95" stroke="#0610C4" stroke-width="2"/>
<line x1="1443.4" y1="174.96" x2="1437.4" y2="174.96" stroke="#0610C4" stroke-width="2"/>
<line x1="1443.4" y1="170.63" x2="1437.4" y2="170.63" stroke="#0610C4" stroke-width="2"/>
<line x1="1443.4" y1="166.81" x2="1437.4" y2="166.81" stroke="#0610C4" stroke-width="2"/>
<line x1="1443.4" y1="163.4" x2="1432.4" y2="163.4" stroke="#0610C4" stroke-width="2"/>
<line x1="1443.4" y1="140.94" x2="1437.4" y2="140.94" stroke="#0610C4" stroke-width="2"/>
<line x1="1443.4" y1="127.81" x2="1437.4" y2="127.81" stroke="#0610C4" stroke-width="2"/>
<line x1="1443.4" y1="118.49" x2="1437.4" y2="118.49" stroke="#0610C4" stroke-width="2"/>
<line x1="1443.4" y1="111.26" x2="1437.4" y2="111.26" stroke="#0610C4" stroke-width="2"/>
<line x1="1443.4" y1="105.35" x2="1437.4" y2="105.35" stroke="#0610C4" stroke-width="2"/>
<line x1="1443.4" y1="100.36" x2="1437.4" y2="100.36" stroke="#0610C4" stroke-width="2"/>
<line x1="1443.4" y1="96.03" x2="1437.4" y2="96.03" stroke="#0610C4" stroke-width="2"/>
<line x1="1443.4" y1="92.21" x2="1437.4" y2="92.21" stroke="#0610C4" stroke-width="2"/>
<line x1="1443.4" y1="88.8" x2="1432.4" y2="88.8" stroke="#0610C4" stroke-width="2"/>
<line x1="1443.4" y1="66.34" x2="1437.4" y2="66.34" stroke="#0610C4" stroke-width="2"/>
<line x1="1443.4" y1="53.21" x2="1437.4" y2="53.21" stroke="#0610C4" stroke-width="2"/>
<line x1="1443.4" y1="43.89" x2="1437.4" y2="43.89" stroke="#0610C4" stroke-width="2"/>
<line x1="1443.4" y1="36.66" x2="1437.4" y2="36.66" stroke="#0610C4" stroke-width="2"/>
<line x1="1443.4" y1="30.75" x2="1437.4" y2="30.75" stroke="#0610C4" stroke-width="2"/>
<line x1="1443.4" y1="25.76" x2="1437.4" y2="25.76" stroke="#0610C4" stroke-width="2"/>
<line x1="1443.4" y1="21.43" x2="1437.4" y2="21.43" stroke="#0610C4" stroke-width="2"/>
<line x1="1443.4" y1="17.61" x2="1437.4" y2="17.61" stroke="#0610C4" stroke-width="2"/>
<line x1="1443.4" y1="14.2" x2="1432.4" y2="14.2" stroke="#0610C4" stroke-width="2"/>
<text x="1457" y="398" font-size="29" fill="#0610C4" text-anchor="start" letter-spacing="-0.4">10<tspan font-size="18.56" dx="-1.8" dy="-11.6">-1</tspan></text>
<text x="1457" y="323.4" font-size="29" fill="#0610C4" text-anchor="start" letter-spacing="-0.4">10<tspan font-size="18.56" dx="-1.8" dy="-11.6">0</tspan></text>
<text x="1457" y="248.8" font-size="29" fill="#0610C4" text-anchor="start" letter-spacing="-0.4">10<tspan font-size="18.56" dx="-1.8" dy="-11.6">1</tspan></text>
<text x="1457" y="174.2" font-size="29" fill="#0610C4" text-anchor="start" letter-spacing="-0.4">10<tspan font-size="18.56" dx="-1.8" dy="-11.6">2</tspan></text>
<text x="1457" y="99.6" font-size="29" fill="#0610C4" text-anchor="start" letter-spacing="-0.4">10<tspan font-size="18.56" dx="-1.8" dy="-11.6">3</tspan></text>
<text x="1457" y="25" font-size="29" fill="#0610C4" text-anchor="start" letter-spacing="-0.4">10<tspan font-size="18.56" dx="-1.8" dy="-11.6">4</tspan></text>
<text x="1089.3" y="421" font-size="29" fill="#000" text-anchor="middle" letter-spacing="0">1</text>
<text x="1232.55" y="421" font-size="29" fill="#000" text-anchor="middle" letter-spacing="0">10</text>
<text x="1375.8" y="421" font-size="29" fill="#000" text-anchor="middle" letter-spacing="0">100</text>
<text x="1272.5" y="455.3" font-size="27.5" text-anchor="middle" letter-spacing="1.2"><tspan font-style="italic">T</tspan> (K)</text>
<text transform="translate(1002 199.3) rotate(-90)" font-size="27.5" text-anchor="middle" letter-spacing="0.58"><tspan font-style="italic">R</tspan>(<tspan font-style="italic">T</tspan>) / <tspan font-style="italic">R</tspan>(300 K)</text>
<text x="985" y="43.5" font-size="33" fill="#000" text-anchor="start">d</text>
<text x="1157.6" y="120.2" font-size="25.3" fill="#05583E" text-anchor="middle" letter-spacing="0.8">In-plane</text>
<text x="1158.9" y="150.2" font-size="25.3" fill="#05583E" text-anchor="middle" letter-spacing="0.8">(Inverted)</text>
<text x="1371.4" y="182.5" font-size="25.3" fill="#0610C4" text-anchor="middle" letter-spacing="0.8">In-plane</text>
<text x="1373.4" y="213.2" font-size="25.3" fill="#0610C4" text-anchor="middle" letter-spacing="0.8">(Standard)</text>
<text x="1164.9" y="263" font-size="25.3" fill="#B4540A" text-anchor="middle" letter-spacing="0.8">In-plane</text>
<text x="1167.4" y="292.5" font-size="25.3" fill="#B4540A" text-anchor="middle" letter-spacing="0.8">(Non-local)</text>
<line x1="1169.3" y1="180.5" x2="1138.1" y2="180.5" stroke="#05583E" stroke-width="4.4"/>
<polygon points="1107.6,180.5 1138.6,172.5 1138.6,188.5" fill="#05583E"/>
<line x1="1169.3" y1="341.3" x2="1138.1" y2="341.3" stroke="#F07D22" stroke-width="4.4"/>
<polygon points="1107.6,341.3 1138.6,333.3 1138.6,349.3" fill="#F07D22"/>
<line x1="1367.5" y1="279.5" x2="1396.8" y2="279.5" stroke="#1F3CFF" stroke-width="4.4"/>
<polygon points="1427.3,279.5 1396.3,287.5 1396.3,271.5" fill="#1F3CFF"/>
</g>
<g id="panel-a">
<text x="-3.2" y="45" font-size="34" fill="#000" text-anchor="start">a</text>
<rect x="248.2" y="2.5" width="152.6" height="97.7" fill="#fff" stroke="#222" stroke-width="1.5"/>
<text x="269.5" y="35.8" font-size="20.5"><tspan font-style="italic">I</tspan><tspan font-size="13.5" dy="3.8">surface</tspan></text>
<text x="269.5" y="76.5" font-size="20.5"><tspan font-style="italic">I</tspan><tspan font-size="13.5" dy="4.2">bulk</tspan></text>
<line x1="332.3" y1="30.5" x2="380" y2="30.5" stroke="#C00000" stroke-width="4"/>
<polygon points="388.5,30.5 379.5,35 379.5,26" fill="#C00000"/>
<line x1="332.3" y1="68.6" x2="380" y2="68.6" stroke="#1F3864" stroke-width="4"/>
<polygon points="388.5,68.6 379.5,73.1 379.5,64.1" fill="#1F3864"/>
<rect x="31" y="191.4" width="294" height="36.8" fill="#FFE9A6"/>
<rect x="31" y="193.6" width="294" height="1.6" fill="#FFF6D6"/>
<rect x="31" y="197.15" width="294" height="1.6" fill="#FFF6D6"/>
<rect x="31" y="200.7" width="294" height="1.6" fill="#FFF6D6"/>
<rect x="31" y="204.25" width="294" height="1.6" fill="#FFF6D6"/>
<rect x="31" y="207.8" width="294" height="1.6" fill="#FFF6D6"/>
<rect x="31" y="211.35" width="294" height="1.6" fill="#FFF6D6"/>
<rect x="31" y="214.9" width="294" height="1.6" fill="#FFF6D6"/>
<rect x="31" y="218.45" width="294" height="1.6" fill="#FFF6D6"/>
<rect x="31" y="222" width="294" height="1.6" fill="#FFF6D6"/>
<rect x="31" y="225.55" width="294" height="1.6" fill="#FFF6D6"/>
<polyline points="120.5,86.8 71.2,86.8 71.2,186" fill="none" stroke="#000" stroke-width="1.8" stroke-linejoin="miter"/>
<polyline points="168.8,86.8 217,86.8 217,186" fill="none" stroke="#000" stroke-width="1.8" stroke-linejoin="miter"/>
<circle cx="135" cy="86.8" r="14.6" fill="none" stroke="#000" stroke-width="1.8"/>
<circle cx="154.3" cy="86.8" r="14.6" fill="none" stroke="#000" stroke-width="1.8"/>
<line x1="121.3" y1="62.5" x2="160" y2="62.5" stroke="#000" stroke-width="2"/>
<polygon points="168,62.5 159.5,66.3 159.5,58.7" fill="#000"/>
<polyline points="130,157 121.2,157 121.2,186" fill="none" stroke="#000" stroke-width="1.8" stroke-linejoin="miter"/>
<polyline points="158.7,157 167.1,157 167.1,186" fill="none" stroke="#000" stroke-width="1.8" stroke-linejoin="miter"/>
<circle cx="144.3" cy="157" r="14.4" fill="#fff" stroke="#000" stroke-width="1.8"/>
<text x="144.3" y="164.92" font-size="22" fill="#000" text-anchor="middle">V</text>
<polyline points="267.5,157 258.8,157 258.8,186" fill="none" stroke="#000" stroke-width="1.8" stroke-linejoin="miter"/>
<polyline points="296,157 304,157 304,186" fill="none" stroke="#000" stroke-width="1.8" stroke-linejoin="miter"/>
<circle cx="281.8" cy="157" r="14.4" fill="#fff" stroke="#000" stroke-width="1.8"/>
<text x="281.8" y="164.92" font-size="22" fill="#000" text-anchor="middle">V</text>
<polyline points="121.2,232 121.2,252.5 130,252.5" fill="none" stroke="#000" stroke-width="1.8" stroke-linejoin="miter"/>
<polyline points="167.1,232 167.1,252.5 158.7,252.5" fill="none" stroke="#000" stroke-width="1.8" stroke-linejoin="miter"/>
<circle cx="144.3" cy="252.5" r="14.4" fill="#fff" stroke="#000" stroke-width="1.8"/>
<text x="144.3" y="260.42" font-size="22" fill="#000" text-anchor="middle">V</text>
<path d="M65.6 191.4 A5.6 6 0 0 1 76.8 191.4 Z" fill="#808080" stroke="#333" stroke-width="1"/>
<path d="M115.6 191.4 A5.6 6 0 0 1 126.8 191.4 Z" fill="#808080" stroke="#333" stroke-width="1"/>
<path d="M161.5 191.4 A5.6 6 0 0 1 172.7 191.4 Z" fill="#808080" stroke="#333" stroke-width="1"/>
<path d="M211.4 191.4 A5.6 6 0 0 1 222.6 191.4 Z" fill="#808080" stroke="#333" stroke-width="1"/>
<path d="M253.2 191.4 A5.6 6 0 0 1 264.4 191.4 Z" fill="#808080" stroke="#333" stroke-width="1"/>
<path d="M298.4 191.4 A5.6 6 0 0 1 309.6 191.4 Z" fill="#808080" stroke="#333" stroke-width="1"/>
<path d="M115.8 228 A5.4 5 0 0 0 126.6 228 Z" fill="#808080" stroke="#333" stroke-width="1"/>
<path d="M161.7 228 A5.4 5 0 0 0 172.5 228 Z" fill="#808080" stroke="#333" stroke-width="1"/>
<text x="145" y="137.5" font-size="20.8" fill="#000" text-anchor="middle">Standard</text>
<text x="282.5" y="137.5" font-size="20.8" fill="#000" text-anchor="middle">Non-local</text>
<text x="143.5" y="292" font-size="20.6" fill="#000" text-anchor="middle">Inverted</text>
<line x1="31.3" y1="191.1" x2="54.8" y2="191.1" stroke="#C00000" stroke-width="2.6"/>
<polygon points="60,191.1 54.3,194.1 54.3,188.1" fill="#C00000"/>
<line x1="206.3" y1="191.1" x2="86.7" y2="191.1" stroke="#C00000" stroke-width="2.6"/>
<polygon points="81.5,191.1 87.2,188.1 87.2,194.1" fill="#C00000"/>
<line x1="230" y1="191.1" x2="317.3" y2="191.1" stroke="#C00000" stroke-width="2.6"/>
<polygon points="322.5,191.1 316.8,194.1 316.8,188.1" fill="#C00000"/>
<line x1="30.7" y1="224.3" x2="30.7" y2="200.2" stroke="#C00000" stroke-width="2.6"/>
<polygon points="30.7,195 33.7,200.7 27.7,200.7" fill="#C00000"/>
<line x1="323.8" y1="195" x2="323.8" y2="219.1" stroke="#C00000" stroke-width="2.6"/>
<polygon points="323.8,224.3 320.8,218.6 326.8,218.6" fill="#C00000"/>
<line x1="71.3" y1="226.9" x2="37.2" y2="226.9" stroke="#C00000" stroke-width="2.6"/>
<polygon points="32,226.9 37.7,223.9 37.7,229.9" fill="#C00000"/>
<line x1="206.3" y1="226.9" x2="87.7" y2="226.9" stroke="#C00000" stroke-width="2.6"/>
<polygon points="82.5,226.9 88.2,223.9 88.2,229.9" fill="#C00000"/>
<line x1="313.8" y1="226.9" x2="227.7" y2="226.9" stroke="#C00000" stroke-width="2.6"/>
<polygon points="222.5,226.9 228.2,223.9 228.2,229.9" fill="#C00000"/>
<path d="M210.2 192.2 Q207 197.2 185.5 197.2" fill="none" stroke="#1F3864" stroke-width="2.2"/>
<polygon points="181.5,197.2 186.7,194.5 186.7,199.9" fill="#1F3864"/>
<line x1="177.3" y1="197.2" x2="116.6" y2="197.2" stroke="#1F3864" stroke-width="2.2"/>
<polygon points="111.9,197.2 117.1,194.5 117.1,199.9" fill="#1F3864"/>
<path d="M103.7 197.2 Q87 197 79.8 194.3" fill="none" stroke="#1F3864" stroke-width="2.2"/>
<polygon points="75.9,192.7 81.74,192.24 79.64,197.21" fill="#1F3864"/>
<path d="M212.5 195.3 Q207 205 178.5 205.2" fill="none" stroke="#1F3864" stroke-width="2.2"/>
<polygon points="174.5,205.2 179.7,202.5 179.7,207.9" fill="#1F3864"/>
<line x1="169.8" y1="205.2" x2="123.7" y2="205.2" stroke="#1F3864" stroke-width="2.2"/>
<polygon points="119,205.2 124.2,202.5 124.2,207.9" fill="#1F3864"/>
<path d="M106.7 205.6 Q82 205.6 74.6 199.2" fill="none" stroke="#1F3864" stroke-width="2.2"/>
<polygon points="71.2,196.2 76.89,197.6 73.33,201.66" fill="#1F3864"/>
<text x="277.5" y="291.7" font-size="22.2" letter-spacing="0.55">α-(BETS)<tspan font-size="15.5" dy="5.5">2</tspan><tspan dy="-5.5">I</tspan><tspan font-size="15.5" dy="5.5">3</tspan></text>
</g>
<g id="panel-b">
<text x="-1.2" y="298.8" font-size="33" fill="#000" text-anchor="start">b</text>
<rect x="31" y="373" width="293" height="37.6" fill="#FFE9A6"/>
<rect x="31" y="375.2" width="293" height="1.6" fill="#FFF6D6"/>
<rect x="31" y="378.75" width="293" height="1.6" fill="#FFF6D6"/>
<rect x="31" y="382.3" width="293" height="1.6" fill="#FFF6D6"/>
<rect x="31" y="385.85" width="293" height="1.6" fill="#FFF6D6"/>
<rect x="31" y="389.4" width="293" height="1.6" fill="#FFF6D6"/>
<rect x="31" y="392.95" width="293" height="1.6" fill="#FFF6D6"/>
<rect x="31" y="396.5" width="293" height="1.6" fill="#FFF6D6"/>
<rect x="31" y="400.05" width="293" height="1.6" fill="#FFF6D6"/>
<rect x="31" y="403.6" width="293" height="1.6" fill="#FFF6D6"/>
<rect x="31" y="407.15" width="293" height="1.6" fill="#FFF6D6"/>
<polyline points="81.8,340.8 12.5,340.8 12.5,436 166.4,436 166.4,414" fill="none" stroke="#000" stroke-width="2" stroke-linejoin="miter"/>
<polyline points="130,340.8 166.4,340.8 166.4,368" fill="none" stroke="#000" stroke-width="2" stroke-linejoin="miter"/>
<circle cx="96.3" cy="341.3" r="14.5" fill="none" stroke="#000" stroke-width="1.8"/>
<circle cx="115" cy="341.3" r="14.5" fill="none" stroke="#000" stroke-width="1.8"/>
<line x1="80.5" y1="317" x2="119" y2="317" stroke="#000" stroke-width="2.4"/>
<polygon points="127.5,317 118.5,321 118.5,313" fill="#000"/>
<polyline points="216.8,368 216.8,340.8 338,340.8 338,436 216.8,436 216.8,414" fill="none" stroke="#000" stroke-width="2" stroke-linejoin="miter"/>
<circle cx="282.5" cy="337.5" r="15" fill="#fff" stroke="#000" stroke-width="1.8"/>
<text x="282.5" y="345.42" font-size="22" fill="#000" text-anchor="middle">V</text>
<path d="M160.6 373 L160.6 372 Q160.6 367.8 164.8 367.8 L168 367.8 Q172.2 367.8 172.2 372 L172.2 373 Z" fill="#808080" stroke="#333" stroke-width="1"/>
<path d="M211 373 L211 372 Q211 367.8 215.2 367.8 L218.4 367.8 Q222.6 367.8 222.6 372 L222.6 373 Z" fill="#808080" stroke="#333" stroke-width="1"/>
<path d="M160.8 409.6 L160.8 410.4 Q160.8 414.2 164.6 414.2 L168.2 414.2 Q172 414.2 172 410.4 L172 409.6 Z" fill="#808080" stroke="#333" stroke-width="1"/>
<path d="M211.2 409.6 L211.2 410.4 Q211.2 414.2 215 414.2 L218.6 414.2 Q222.4 414.2 222.4 410.4 L222.4 409.6 Z" fill="#808080" stroke="#333" stroke-width="1"/>
<line x1="87.5" y1="373.5" x2="38" y2="373.5" stroke="#C00000" stroke-width="2.6"/>
<polygon points="32.5,373.5 38.5,370.4 38.5,376.6" fill="#C00000"/>
<line x1="150" y1="373.5" x2="101.3" y2="373.5" stroke="#C00000" stroke-width="2.6"/>
<polygon points="95.8,373.5 101.8,370.4 101.8,376.6" fill="#C00000"/>
<line x1="175.2" y1="373.5" x2="235.8" y2="373.5" stroke="#C00000" stroke-width="2.6"/>
<polygon points="241.3,373.5 235.3,376.6 235.3,370.4" fill="#C00000"/>
<line x1="252" y1="373.5" x2="312.5" y2="373.5" stroke="#C00000" stroke-width="2.6"/>
<polygon points="318,373.5 312,376.6 312,370.4" fill="#C00000"/>
<line x1="30.5" y1="376.3" x2="30.5" y2="400" stroke="#C00000" stroke-width="2.6"/>
<polygon points="30.5,405.5 27.4,399.5 33.6,399.5" fill="#C00000"/>
<line x1="322.5" y1="376.3" x2="322.5" y2="400" stroke="#C00000" stroke-width="2.6"/>
<polygon points="322.5,405.5 319.4,399.5 325.6,399.5" fill="#C00000"/>
<line x1="32.5" y1="409.6" x2="82.5" y2="409.6" stroke="#C00000" stroke-width="2.6"/>
<polygon points="88,409.6 82,412.7 82,406.5" fill="#C00000"/>
<line x1="95.8" y1="409.6" x2="144.9" y2="409.6" stroke="#C00000" stroke-width="2.6"/>
<polygon points="150.4,409.6 144.4,412.7 144.4,406.5" fill="#C00000"/>
<line x1="243.8" y1="409.6" x2="182.9" y2="409.6" stroke="#C00000" stroke-width="2.6"/>
<polygon points="177.4,409.6 183.4,406.5 183.4,412.7" fill="#C00000"/>
<line x1="317" y1="409.6" x2="256.3" y2="409.6" stroke="#C00000" stroke-width="2.6"/>
<polygon points="250.8,409.6 256.8,406.5 256.8,412.7" fill="#C00000"/>
<line x1="166.5" y1="376.9" x2="166.5" y2="399" stroke="#1F3864" stroke-width="2.3"/>
<polygon points="166.5,404.4 164,398.5 169,398.5" fill="#1F3864"/>
<path d="M150.3 376.6 L149.01 376.69 L147.74 376.95 L146.5 377.39 L145.31 378 L144.19 378.76 L143.15 379.67 L142.2 380.72 L141.35 381.89 L140.62 383.18 L140.02 384.55 L139.55 386 L139.23 387.5 L139.04 389.03 L139 390.59 L139.11 392.13 L139.37 393.66 L139.77 395.13 L140.31 396.55 L140.97 397.87 L141.76 399.1 L142.66 400.22 L143.66 401.2 L144.74 402.04 L145.9 402.73" fill="none" stroke="#1F3864" stroke-width="2.4"/>
<polygon points="150.18,404.9 144.14,404.86 146.59,400.05" fill="#1F3864"/>
<path d="M182.6 376.6 L183.91 376.69 L185.2 376.95 L186.46 377.39 L187.67 378 L188.82 378.76 L189.88 379.67 L190.85 380.72 L191.71 381.89 L192.45 383.18 L193.06 384.55 L193.54 386 L193.87 387.5 L194.06 389.03 L194.1 390.59 L193.98 392.13 L193.72 393.66 L193.32 395.13 L192.77 396.55 L192.09 397.87 L191.29 399.1 L190.38 400.22 L189.36 401.2 L188.26 402.04 L187.08 402.73" fill="none" stroke="#1F3864" stroke-width="2.4"/>
<polygon points="182.79,404.87 186.41,400.04 188.82,404.87" fill="#1F3864"/>
<path d="M160.1 376.6 L159.55 376.67 L159.01 376.89 L158.48 377.26 L157.96 377.77 L157.47 378.41 L157.01 379.18 L156.59 380.06 L156.2 381.06 L155.86 382.16 L155.57 383.34 L155.32 384.59 L155.13 385.9 L155 387.25 L154.92 388.64 L154.9 390.03 L154.94 391.43 L155.04 392.8 L155.19 394.14 L155.4 395.44 L155.66 396.67 L155.97 397.82 L156.33 398.88 L156.73 399.85 L157.16 400.69" fill="none" stroke="#1F3864" stroke-width="2.4"/>
<polygon points="159.56,404.85 154.52,401.52 159.2,398.83" fill="#1F3864"/>
<path d="M173.1 376.6 L173.65 376.67 L174.19 376.89 L174.72 377.26 L175.24 377.77 L175.73 378.41 L176.19 379.18 L176.61 380.06 L177 381.06 L177.34 382.16 L177.63 383.34 L177.88 384.59 L178.07 385.9 L178.2 387.25 L178.28 388.64 L178.3 390.03 L178.26 391.43 L178.16 392.8 L178.01 394.14 L177.8 395.44 L177.54 396.67 L177.23 397.82 L176.87 398.88 L176.47 399.85 L176.04 400.69" fill="none" stroke="#1F3864" stroke-width="2.4"/>
<polygon points="173.64,404.85 174,398.83 178.68,401.52" fill="#1F3864"/>
</g>
<line x1="282.5" y1="214.3" x2="317.5" y2="263.8" stroke="#000" stroke-width="1.25"/>
<line x1="327.5" y1="308.8" x2="298.8" y2="380.5" stroke="#000" stroke-width="1.25"/>
</svg>
</body>
</html>
